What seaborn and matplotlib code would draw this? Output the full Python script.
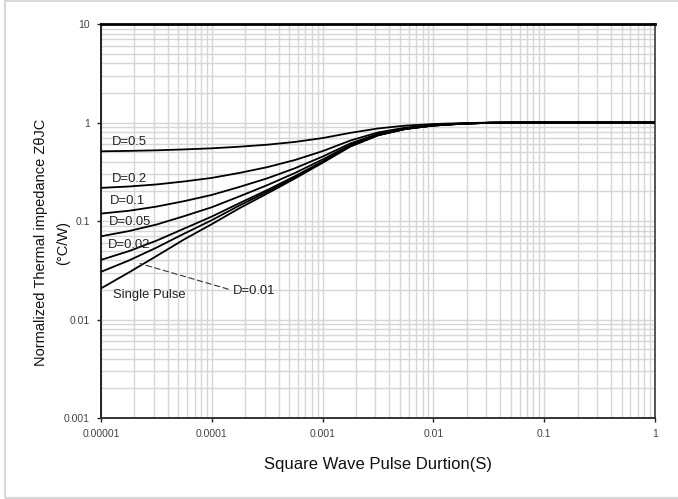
import matplotlib
matplotlib.use("Agg")
import matplotlib.pyplot as plt
import seaborn as sns
import pandas as pd
from matplotlib.patches import Rectangle

# pulse duration (s), read at quarter-decade steps
pulse_t = [1e-5, 1.78e-5, 3.16e-5, 5.62e-5, 1e-4, 1.78e-4, 3.16e-4, 5.62e-4,
           1e-3, 1.78e-3, 3.16e-3, 5.62e-3, 1e-2, 1.78e-2, 3.16e-2, 5.62e-2, 0.1, 1.0]

# normalized thermal impedance for each duty cycle
z_d05 = [0.510, 0.515, 0.522, 0.533, 0.547, 0.568, 0.595, 0.635, 0.695, 0.785,
         0.870, 0.930, 0.965, 0.985, 0.997, 1.0, 1.0, 1.0]
z_d02 = [0.217, 0.224, 0.235, 0.252, 0.274, 0.308, 0.352, 0.416, 0.512, 0.656,
         0.792, 0.888, 0.944, 0.976, 0.994, 1.0, 1.0, 1.0]
z_d01 = [0.119, 0.127, 0.140, 0.159, 0.184, 0.222, 0.271, 0.343, 0.451, 0.613,
         0.766, 0.874, 0.937, 0.973, 0.994, 1.0, 1.0, 1.0]
z_d005 = [0.070, 0.079, 0.092, 0.112, 0.138, 0.178, 0.231, 0.307, 0.421, 0.592,
          0.753, 0.867, 0.934, 0.972, 0.993, 1.0, 1.0, 1.0]
z_d002 = [0.0403, 0.0494, 0.0631, 0.0837, 0.111, 0.152, 0.206, 0.285, 0.402, 0.579,
          0.745, 0.863, 0.931, 0.971, 0.993, 1.0, 1.0, 1.0]
z_d001 = [0.0305, 0.0397, 0.0536, 0.0744, 0.102, 0.144, 0.198, 0.277, 0.396, 0.574,
          0.743, 0.861, 0.931, 0.970, 0.993, 1.0, 1.0, 1.0]
z_single = [0.0207, 0.030, 0.044, 0.065, 0.093, 0.135, 0.190, 0.270, 0.390, 0.570,
            0.740, 0.860, 0.930, 0.970, 0.993, 1.0, 1.0, 1.0]

curve_names = ["D=0.5", "D=0.2", "D=0.1", "D=0.05", "D=0.02", "D=0.01", "Single Pulse"]
curve_values = [z_d05, z_d02, z_d01, z_d005, z_d002, z_d001, z_single]

# label anchors (left edge, vertical centre) in data units
label_x = [1.26e-5, 1.26e-5, 1.2e-5, 1.18e-5, 1.15e-5, 1.55e-4, 1.28e-5]
label_y = [0.64, 0.264, 0.158, 0.0966, 0.0577, 0.0197, 0.0179]

x_ticks = [1e-5, 1e-4, 1e-3, 1e-2, 1e-1, 1]
x_tick_labels = ["0.00001", "0.0001", "0.001", "0.01", "0.1", "1"]
y_ticks = [0.001, 0.01, 0.1, 1, 10]
y_tick_labels = ["0.001", "0.01", "0.1", "1", "10"]

rows = []
for name, vals in zip(curve_names, curve_values):
    for t, z in zip(pulse_t, vals):
        rows.append({"t": t, "z": z, "curve": name})
df = pd.DataFrame(rows)

sns.set_theme(style="white")
plt.rcParams["font.family"] = ["Liberation Sans", "DejaVu Sans"]

fig = plt.figure(figsize=(6.78, 4.99), dpi=100)
ax = fig.add_axes([0.149, 0.1623, 0.817, 0.7896])

sns.lineplot(data=df, x="t", y="z", hue="curve", hue_order=curve_names,
             palette=["black"] * len(curve_names), linewidth=1.3,
             legend=False, ax=ax, zorder=3)

ax.set_xscale("log")
ax.set_yscale("log")
ax.set_xlim(1e-5, 1)
ax.set_ylim(1e-3, 10)

ax.set_xticks(x_ticks, x_tick_labels)
ax.set_yticks(y_ticks, y_tick_labels)
ax.xaxis.set_minor_formatter(matplotlib.ticker.NullFormatter())
ax.yaxis.set_minor_formatter(matplotlib.ticker.NullFormatter())
ax.tick_params(which="major", direction="out", length=3, width=1, color="#222222",
               labelsize=7.5, labelcolor="#444444", pad=5, bottom=True, left=True)
ax.tick_params(which="minor", length=0)

ax.set_axisbelow(True)
ax.grid(which="both", color="#d6d6d6", linewidth=1.0)

for side, lw, col in [("left", 1.4, "#222222"), ("bottom", 1.4, "#333333"),
                      ("top", 2.0, "#000000"), ("right", 1.4, "#555555")]:
    ax.spines[side].set_visible(True)
    ax.spines[side].set_linewidth(lw)
    ax.spines[side].set_color(col)

ax.set_xlabel("Square Wave Pulse Durtion(S)", fontsize=12, color="#111111", labelpad=13)
ax.set_ylabel("Normalized Thermal impedance Z\u03b8JC\n(\u00b0C/W)", fontsize=10.5,
              color="#111111", linespacing=1.75)
ax.yaxis.set_label_coords(-0.056, 0.445)

for i, name in enumerate(curve_names):
    if name == "D=0.01":
        ax.annotate(name, xy=(2.25e-5, 0.037), xytext=(label_x[i], label_y[i]),
                    fontsize=9.4, color="#222222", ha="left", va="center",
                    arrowprops=dict(arrowstyle="-", linestyle=(0, (5, 3)), color="#333333",
                                    lw=0.8, shrinkA=1, shrinkB=0, relpos=(0, 0.5)))
    else:
        ax.text(label_x[i], label_y[i], name, fontsize=9.4, color="#222222",
                ha="left", va="center")

fig.patches.append(Rectangle((0.0074, 0.002), 1.0, 0.995, transform=fig.transFigure,
                             fill=False, edgecolor="#d8d8d8", linewidth=1.5))

fig.savefig("out.png", dpi=100, facecolor="white")
